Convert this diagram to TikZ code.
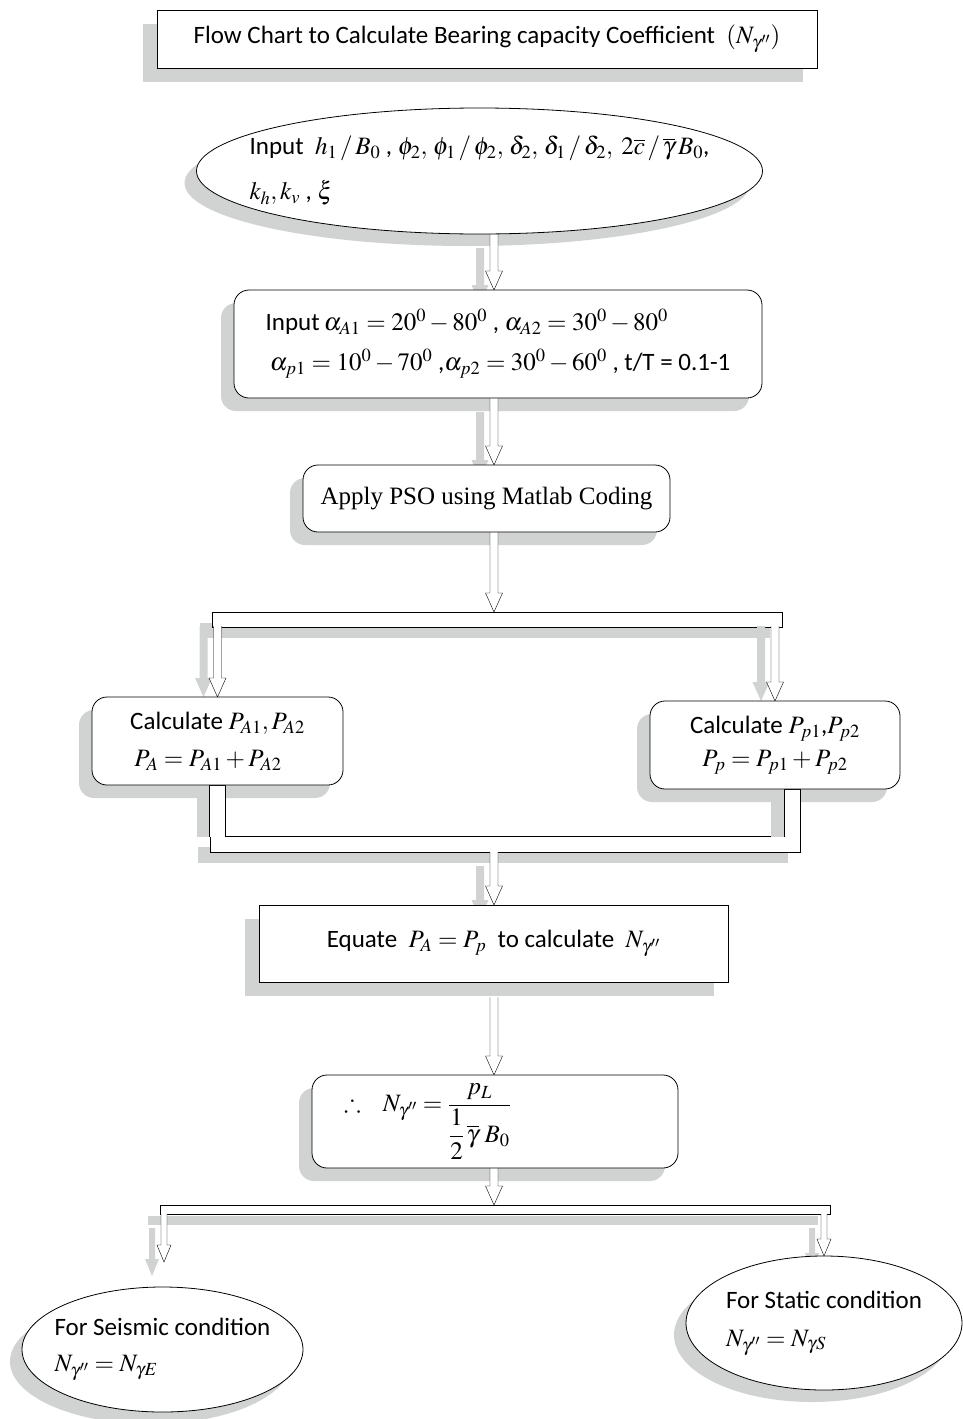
\documentclass[tikz,border=0pt]{standalone}
\usepackage{amsmath,amssymb}
\usepackage{mathptmx}
\usepackage[no-math]{fontspec}
\setmainfont{Carlito}
\newfontfamily\timesfont{Liberation Serif}
\usetikzlibrary{shapes.geometric,calc}
\definecolor{shadowcol}{RGB}{209,211,211}
\pgfdeclarelayer{shadow}
\pgfdeclarelayer{conn}
\pgfsetlayers{shadow,conn,main}
\tikzset{
  tbox/.style={rectangle, draw, fill=white, inner sep=0pt, outer sep=0pt},
  rbox/.style={tbox, rounded corners=15pt},
  ebox/.style={ellipse, draw, fill=white, outer sep=0pt},
  barbox/.style={rectangle, draw, fill=white, inner sep=0pt, outer sep=0pt,
    preaction={fill=shadowcol, draw=none, transform canvas={shift={(-12pt,-11pt)}}}},
  harrowshape/.style n args={3}{fill=white, draw=black, line join=miter,
    to path={let \p1=(\tikztostart), \p2=(\tikztotarget) in
      (\x2-#1,\y1) -- (\x2-#1,\y2+#3) -- (\x2-#2,\y2+#3) -- (\x2,\y2)
      -- (\x2+#2,\y2+#3) -- (\x2+#1,\y2+#3) -- (\x2+#1,\y1)}},
  arrowshadow/.style={preaction={fill=shadowcol, draw=none, transform canvas={shift={#1}}}},
  plainarrow/.style={harrowshape={4pt}{8.5pt}{19pt}},
  bigarrow/.style={plainarrow, arrowshadow={(-14pt,-14pt)}},
  bararrow/.style={plainarrow, arrowshadow={(-14pt,0pt)}},
  smallarrow/.style={harrowshape={3pt}{7pt}{17pt}, arrowshadow={(-12pt,-14pt)}},
  pipe/.style={fill=white, draw=black, line join=miter,
    preaction={fill=shadowcol, draw=none, transform canvas={shift={(-13pt,0pt)}}},
    to path={let \p1=(\tikztostart), \p2=(\tikztotarget) in
      (\x1-8pt,\y2) -- (\x1-8pt,\y1) -- (\x1+8pt,\y1) -- (\x1+8pt,\y2)}},
}
\begin{document}
\begin{tikzpicture}[x=1pt,y=-1pt, line width=0.8pt, font=\fontsize{25pt}{30pt}\selectfont]
\useasboundingbox (0,0) rectangle (962,1419);
\coordinate (col) at (494,0);

% ---------- nodes ----------
\node[tbox, minimum width=660pt, minimum height=58pt] (title) at (487,39)
  {Flow Chart to Calculate Bearing capacity Coefficient\ \ $(N_{\gamma''})$};

\node[ebox, minimum width=566pt, minimum height=126pt, inner xsep=-150pt, inner ysep=-30pt, align=left] (inp) at (479.5,171)
  {Input\ \ $h_1\,/\,B_0$ , $\phi_2,\,\phi_1\,/\,\phi_2,\,\delta_2,\,\delta_1\,/\,\delta_2,\; 2\overline{c}\,/\,\overline{\gamma}\,B_0$,\\[15pt]
   $k_h,k_v$ , $\xi$};

\node[rbox, minimum width=528pt, minimum height=108pt, align=left] (box2) at (498,344)
  {Input\,$\alpha_{A1}=20^0-80^0$ , $\alpha_{A2}=30^0-80^0$\\[10pt]
   \,$\alpha_{p1}=10^0-70^0$ ,$\alpha_{p2}=30^0-60^0$ , t/T = 0.1-1};

\node[rbox, minimum width=367pt, minimum height=67pt, font=\timesfont\fontsize{25pt}{30pt}\selectfont] (box3) at (486.5,498.5)
  {Apply PSO using Matlab Coding};

\node[rbox, minimum width=251pt, minimum height=88pt, align=left] (lcalc) at (217.5,741)
  {Calculate $P_{A1}, P_{A2}$\\[7pt]\,$P_A = P_{A1}+P_{A2}$};

\node[rbox, minimum width=250pt, minimum height=88pt, align=center] (rcalc) at (775,745)
  {Calculate $P_{p1}$,$P_{p2}$\\[3pt]$P_p = P_{p1}+P_{p2}$};

\node[tbox, minimum width=469pt, minimum height=77pt] (eq) at (493.5,943.5)
  {Equate\ \ $P_A = P_p$\ \ to calculate\ \ $N_{\gamma''}$};

\node[rbox, minimum width=366pt, minimum height=93pt, text width=330pt, align=left] (fbox) at (495,1121.5)
  {\hspace*{14pt}$\therefore\;\;\; N_{\gamma''}=\dfrac{p_L}{\dfrac{1}{2}\,\overline{\gamma}\;B_0}$};

\node[ebox, minimum width=281pt, minimum height=125pt, inner xsep=-70pt, inner ysep=-20pt, align=left] (seis) at (162.5,1349.5)
  {For Seismic condition\\[6pt]$N_{\gamma''} = N_{\gamma E}$};

\node[ebox, minimum width=276pt, minimum height=134pt, inner xsep=-70pt, inner ysep=-20pt, align=left] (stat) at (824,1323)
  {For Static condition\\[8pt]$N_{\gamma''} = N_{\gamma S}$};

\coordinate (stip) at (164,1262);

% ---------- shadows of the boxes ----------
\begin{pgfonlayer}{shadow}
  \fill[white] (0,0) rectangle (962,1419);
  \foreach \nd in {title,eq}
    \fill[shadowcol] ([shift={(-14pt,-14pt)}]\nd.north west) rectangle ([shift={(-14pt,-14pt)}]\nd.south east);
  \foreach \nd in {box2,box3,lcalc,rcalc,fbox}
    \fill[shadowcol, rounded corners=15pt] ([shift={(-13pt,-13pt)}]\nd.north west) rectangle ([shift={(-13pt,-13pt)}]\nd.south east);
  \foreach \nd in {inp,seis,stat}
    \fill[shadowcol] let \p1=($(\nd.east)-(\nd.west)$), \p2=($(\nd.north)-(\nd.south)$) in
      ([shift={(-12pt,-12pt)}]\nd.center) ellipse [x radius={0.5*\x1}, y radius={0.5*\y2}];
\end{pgfonlayer}

% ---------- connectors ----------
\begin{pgfonlayer}{conn}
  \draw[bigarrow] (inp.south) to (box2.north -| col);
  \draw[bigarrow] (box2.south) to (box3.north -| col);

  \node[barbox, minimum width=570pt, minimum height=15pt] (bar1) at (497,619.5) {};
  \draw[plainarrow] (box3.south) to (bar1.north -| col);
  \draw[bararrow] ([yshift=1pt]bar1.south) to (lcalc.north);
  \draw[bararrow] ([yshift=1pt]bar1.south) to (rcalc.north);

  \node[barbox, minimum width=590pt, minimum height=16pt] (bar2) at (505,844) {};
  \draw[pipe] (lcalc.south) to ([yshift=-1pt]bar2.north);
  \draw[pipe] ([xshift=17pt]rcalc.south) to ([yshift=-1pt]bar2.north);
  \draw[bigarrow] (bar2.south) to (eq.north -| col);

  \draw[plainarrow] ([yshift=-15pt]eq.south) to (fbox.north -| col);

  \node[barbox, minimum width=670pt, minimum height=9pt] (bar3) at (495,1209.5) {};
  \draw[plainarrow] (fbox.south) to (bar3.north -| col);
  \draw[smallarrow] (bar3.south) to (stip);
  \draw[smallarrow] (bar3.south) to (stat.north);
\end{pgfonlayer}
\end{tikzpicture}
\end{document}
